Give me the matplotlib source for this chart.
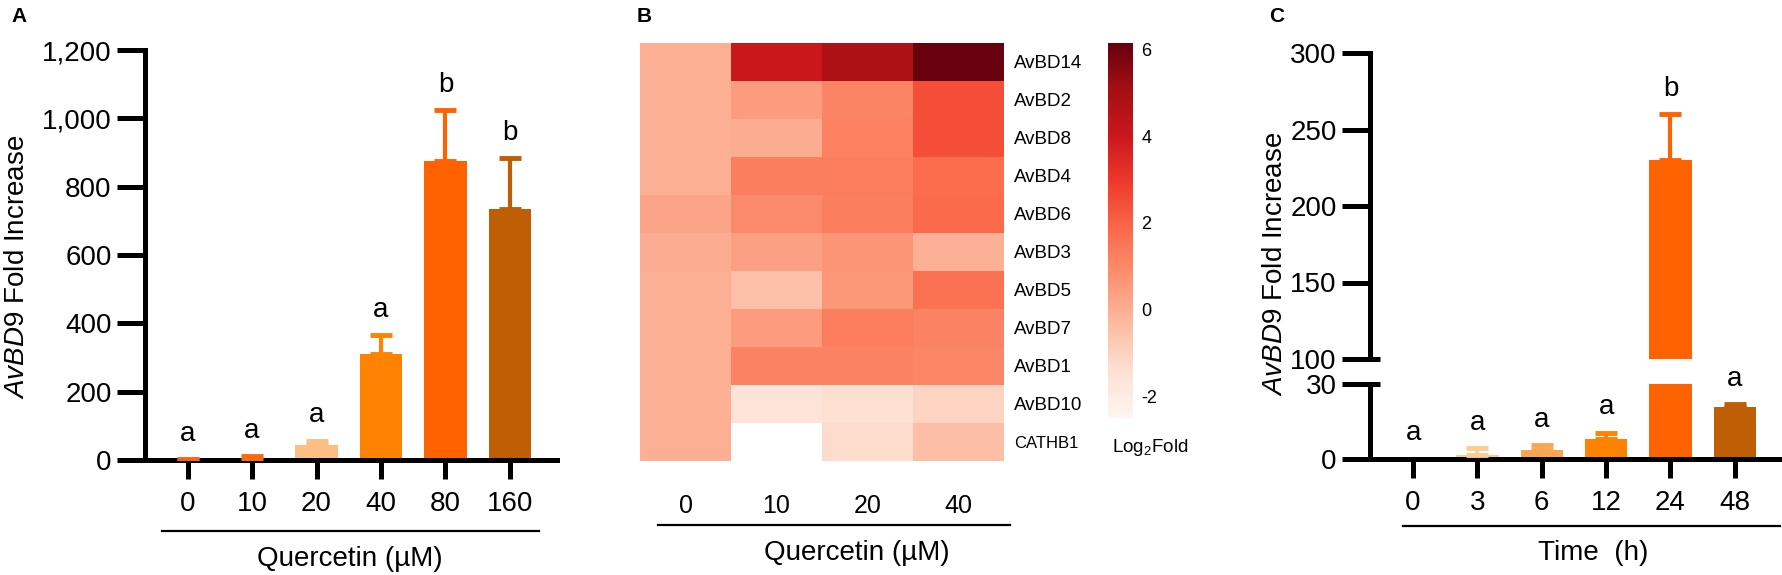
import matplotlib
matplotlib.use("Agg")
import matplotlib.pyplot as plt
import numpy as np
from matplotlib.lines import Line2D
from matplotlib.transforms import blended_transform_factory

plt.rcParams['font.family'] = ['Liberation Sans', 'DejaVu Sans']
plt.rcParams['mathtext.fontset'] = 'custom'
plt.rcParams['mathtext.rm'] = 'Liberation Sans'
plt.rcParams['mathtext.it'] = 'Liberation Sans:italic'
plt.rcParams['axes.unicode_minus'] = False

# ---------------- data ----------------
# A: dose response
dose_labels = ['0', '10', '20', '40', '80', '160']
dose_mean = [0.5, 3, 45, 310, 875, 735]
dose_err = [3, 10, 12, 55, 148, 148]
dose_sig = ['a', 'a', 'a', 'a', 'b', 'b']
dose_colors = ['#FF5F14', '#FA690A', '#FCBE82', '#FF8200', '#FF6200', '#BE5F05']

# B: heatmap (log2 fold)
genes = ['AvBD14', 'AvBD2', 'AvBD8', 'AvBD4', 'AvBD6', 'AvBD3',
         'AvBD5', 'AvBD7', 'AvBD1', 'AvBD10', 'CATHB1']
heat_cols = ['0', '10', '20', '40']
log2fold = [
    [0.0, 4.0, 4.8, 6.1],
    [0.0, 0.5, 1.1, 2.45],
    [0.0, 0.05, 1.2, 2.45],
    [0.0, 1.25, 1.3, 1.75],
    [0.25, 0.95, 1.25, 1.8],
    [0.05, 0.35, 0.65, -0.1],
    [0.0, -0.48, 0.6, 1.6],
    [0.0, 0.5, 1.3, 1.15],
    [0.0, 1.15, 1.15, 1.05],
    [0.0, -1.63, -1.42, -1.07],
    [0.0, -2.6, -1.3, -0.42],
]

# C: time course
time_labels = ['0', '3', '6', '12', '24', '48']
time_mean = [0.3, 1.5, 3.6, 8.1, 230, 21]
time_err = [0, 2.9, 2.0, 2.5, 30, 0.9]
time_sig = ['a', 'a', 'a', 'a', 'b', 'a']
time_colors = ['#FF8200', '#FCCC94', '#FAA552', '#FF8200', '#FF6200', '#BE5F05']

# ---------------- layout helpers ----------------
W, H = 1783, 575
fig = plt.figure(figsize=(W / 100, H / 100), dpi=100)


def px_axes(x0, y0, x1, y1):
    return fig.add_axes([x0 / W, 1 - y1 / H, (x1 - x0) / W, (y1 - y0) / H])


def px_text(x, y, s, **kw):
    return fig.text(x / W, 1 - y / H, s, **kw)


def px_hline(x0, x1, y, lw=1.6):
    fig.add_artist(Line2D([x0 / W, x1 / W], [1 - y / H, 1 - y / H],
                          transform=fig.transFigure, color='black', lw=lw))


LW = 3.6
FS = 20


def style_bar_axes(ax):
    for s in ['top', 'right']:
        ax.spines[s].set_visible(False)
    for s in ['left', 'bottom']:
        ax.spines[s].set_linewidth(LW)
    ax.tick_params(axis='y', length=20, width=LW, labelsize=FS, pad=4)
    ax.tick_params(axis='x', length=14, width=LW, labelsize=FS, pad=8)


def draw_bars(ax, means, errs, colors):
    x = np.arange(len(means))
    ax.bar(x, means, width=0.66, color=colors, zorder=1)
    for i in range(len(means)):
        if errs[i] <= 0:
            continue
        ax.errorbar(x[i], means[i], yerr=[[0], [errs[i]]], fmt='none',
                    ecolor=colors[i], elinewidth=3, capsize=8, capthick=3.5,
                    zorder=3)


def draw_letters(ax, means, errs, letters):
    for i, (m, e, t) in enumerate(zip(means, errs, letters)):
        ax.annotate(t, (i, m + e), xytext=(0, 13), textcoords='offset points',
                    ha='center', va='baseline', fontsize=FS,
                    annotation_clip=False)


# ---------------- panel A ----------------
axA = px_axes(145, 50, 557, 460)
draw_bars(axA, dose_mean, dose_err, dose_colors)
draw_letters(axA, dose_mean, dose_err, dose_sig)
axA.set_xlim(-0.66, 5.73)
axA.set_ylim(0, 1200)
axA.set_yticks(np.arange(0, 1201, 200))
axA.set_yticklabels([f'{v:,}' for v in range(0, 1201, 200)])
axA.set_xticks(np.arange(len(dose_labels)))
axA.set_xticklabels(dose_labels)
style_bar_axes(axA)

px_text(17, 267, r'$\mathit{AvBD9}$ Fold Increase', rotation=90,
        ha='center', va='center', fontsize=FS)
px_hline(162, 539, 531)
px_text(350, 559, 'Quercetin (µM)', ha='center', va='center', fontsize=FS)
px_text(11, 17, 'A', fontsize=15, fontweight='bold', ha='left', va='center')

# ---------------- panel B ----------------
cmap = plt.get_cmap('Reds').copy()
cmap.set_under('white')
axB = px_axes(640, 43, 1004, 461)
im = axB.imshow(np.array(log2fold), cmap=cmap, vmin=-2.5, vmax=6.15,
                aspect='auto', interpolation='nearest')
axB.yaxis.tick_right()
axB.set_yticks(np.arange(len(genes)))
axB.set_yticklabels(genes)
axB.set_xticks(np.arange(len(heat_cols)))
axB.set_xticklabels(heat_cols)
axB.tick_params(axis='y', length=0, labelsize=13.5, pad=7)
axB.tick_params(axis='x', length=0, labelsize=18, pad=24)
axB.get_yticklabels()[-1].set_fontsize(12)
for s in axB.spines.values():
    s.set_visible(False)

cax = px_axes(1108, 43, 1133, 418)
cb = fig.colorbar(im, cax=cax, ticks=[-2, 0, 2, 4, 6])
cb.outline.set_visible(False)
cax.tick_params(length=0, labelsize=13, pad=6)
px_text(1112, 447, r'Log$_2$Fold', ha='left', va='center', fontsize=13.5)

px_hline(658, 1010, 525)
px_text(857, 553, 'Quercetin (µM)', ha='center', va='center', fontsize=FS)
px_text(637, 16, 'B', fontsize=15, fontweight='bold', ha='left', va='center')

# ---------------- panel C (broken axis) ----------------
axCu = px_axes(1370, 53, 1783, 359)
axCl = px_axes(1370, 384, 1783, 459)
for ax in (axCu, axCl):
    draw_bars(ax, time_mean, time_err, time_colors)
    ax.set_xlim(-0.67, 5.75)
    style_bar_axes(ax)

axCu.set_ylim(100, 300)
axCu.set_yticks(np.arange(100, 301, 50))
axCu.spines['bottom'].set_visible(False)
axCu.tick_params(axis='x', bottom=False, labelbottom=False)

axCl.set_ylim(0, 30)
axCl.set_yticks([0, 30])
axCl.set_xticks(np.arange(len(time_labels)))
axCl.set_xticklabels(time_labels)

# break marks crossing the axis
for ax, yv in ((axCu, 100), (axCl, 30)):
    tr = blended_transform_factory(ax.transAxes, ax.transData)
    ax.plot([0, 0.025], [yv, yv], transform=tr, color='black', lw=LW,
            clip_on=False, solid_capstyle='butt')

for i, (m, e, t) in enumerate(zip(time_mean, time_err, time_sig)):
    ax = axCu if m + e > 100 else axCl
    ax.annotate(t, (i, m + e), xytext=(0, 13), textcoords='offset points',
                ha='center', va='baseline', fontsize=FS, annotation_clip=False)

px_text(1275, 264, r'$\mathit{AvBD9}$ Fold Increase', rotation=90,
        ha='center', va='center', fontsize=FS)
px_hline(1403, 1780, 526)
px_text(1593, 553, 'Time  (h)', ha='center', va='center', fontsize=FS)
px_text(1269, 16, 'C', fontsize=15, fontweight='bold', ha='left', va='center')

fig.savefig('out.png', dpi=100)
